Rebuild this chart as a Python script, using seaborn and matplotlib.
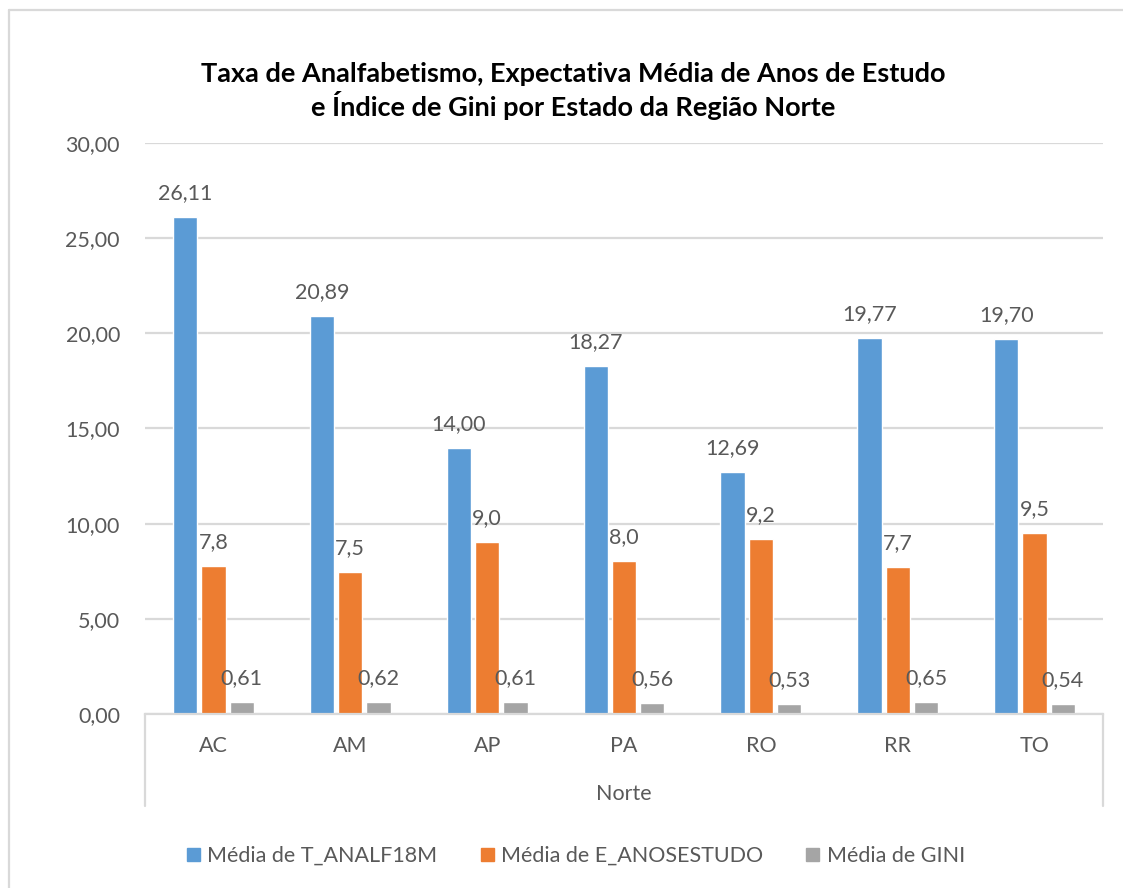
import matplotlib
matplotlib.use("Agg")
import matplotlib.pyplot as plt
import seaborn as sns
import pandas as pd
from matplotlib.lines import Line2D
from matplotlib.patches import Rectangle

states = ["AC", "AM", "AP", "PA", "RO", "RR", "TO"]
t_analf = [26.11, 20.89, 14.00, 18.27, 12.69, 19.77, 19.70]
e_anos = [7.76, 7.45, 9.04, 8.02, 9.17, 7.70, 9.50]
gini = [0.61, 0.62, 0.61, 0.56, 0.53, 0.65, 0.54]
series_names = ["Média de T_ANALF18M", "Média de E_ANOSESTUDO", "Média de GINI"]
decimals = [2, 1, 2]
colors = ["#5B9BD5", "#ED7D31", "#A5A5A5"]
title = "Taxa de Analfabetismo, Expectativa Média de Anos de Estudo\ne Índice de Gini por Estado da Região Norte"
xlabel = "Norte"
yticks = [0, 5, 10, 15, 20, 25, 30]

rows = []
for name, vals in zip(series_names, [t_analf, e_anos, gini]):
    for s, v in zip(states, vals):
        rows.append({"Estado": s, "Serie": name, "Valor": v})
df = pd.DataFrame(rows)

sns.set_theme(style="white")
plt.rcParams["font.family"] = ["Lato", "DejaVu Sans"]
txt = "#595959"
grid = "#D9D9D9"
fs = 15.5

W, H = 1123, 888
fig = plt.figure(figsize=(W / 100, H / 100), dpi=100)
fig.patch.set_facecolor("white")
x0, x1, y0, y1 = 145, 1103, 714, 143
ax = fig.add_axes([x0 / W, 1 - y0 / H, (x1 - x0) / W, (y0 - y1) / H])

sns.barplot(data=df, x="Estado", y="Valor", hue="Serie", palette=colors,
            order=states, hue_order=series_names, width=0.62, gap=0.14,
            ax=ax, legend=False, saturation=1)

ax.set_ylim(0, 30)
ax.set_xlim(-0.5, len(states) - 0.5)
ax.set_yticks(yticks)
ax.set_yticklabels([f"{v:.2f}".replace(".", ",") for v in yticks], color=txt, fontsize=fs)
ax.yaxis.grid(True, color=grid, linewidth=1.6)
ax.set_axisbelow(True)
for sp in ["top", "left", "right"]:
    ax.spines[sp].set_visible(False)
ax.spines["bottom"].set_color(grid)
ax.spines["bottom"].set_linewidth(1.6)
ax.tick_params(axis="y", length=0, pad=18)
ax.tick_params(axis="x", length=0, pad=16, labelsize=fs, labelcolor=txt)
ax.set_ylabel("")
ax.set_xlabel(xlabel, fontsize=fs, color=txt, labelpad=20)

for cont, vals, d in zip(ax.containers, [t_analf, e_anos, gini], decimals):
    labels = [f"{v:.{d}f}".replace(".", ",") for v in vals]
    ax.bar_label(cont, labels=labels, padding=10, fontsize=fs, color=txt)

# category box vertical lines
depth = (806 - 714) / (714 - 143)
for xa in [0, 1]:
    ax.add_line(Line2D([xa, xa], [0, -depth], transform=ax.transAxes,
                       color=grid, linewidth=1.6, clip_on=False))

fig.text(573 / W, 1 - 91 / H, title, ha="center", va="center",
         fontsize=19.5, fontweight="bold", color="black", linespacing=1.22)

handles = [Rectangle((0, 0), 1, 1, color=c) for c in colors]
fig.legend(handles, series_names, loc="center", bbox_to_anchor=(576 / W, 1 - 856 / H),
           ncol=3, frameon=False, fontsize=fs, labelcolor=txt,
           handlelength=0.6, handleheight=0.6, handletextpad=0.35, columnspacing=2.0)

# outer chart border (left and top visible)
fig.add_artist(Line2D([9 / W, 9 / W], [0, 1 - 10 / H], transform=fig.transFigure,
                      color=grid, linewidth=1.6))
fig.add_artist(Line2D([9 / W, 1], [1 - 10 / H, 1 - 10 / H], transform=fig.transFigure,
                      color=grid, linewidth=1.6))

fig.savefig("out.png", dpi=100, facecolor="white")
